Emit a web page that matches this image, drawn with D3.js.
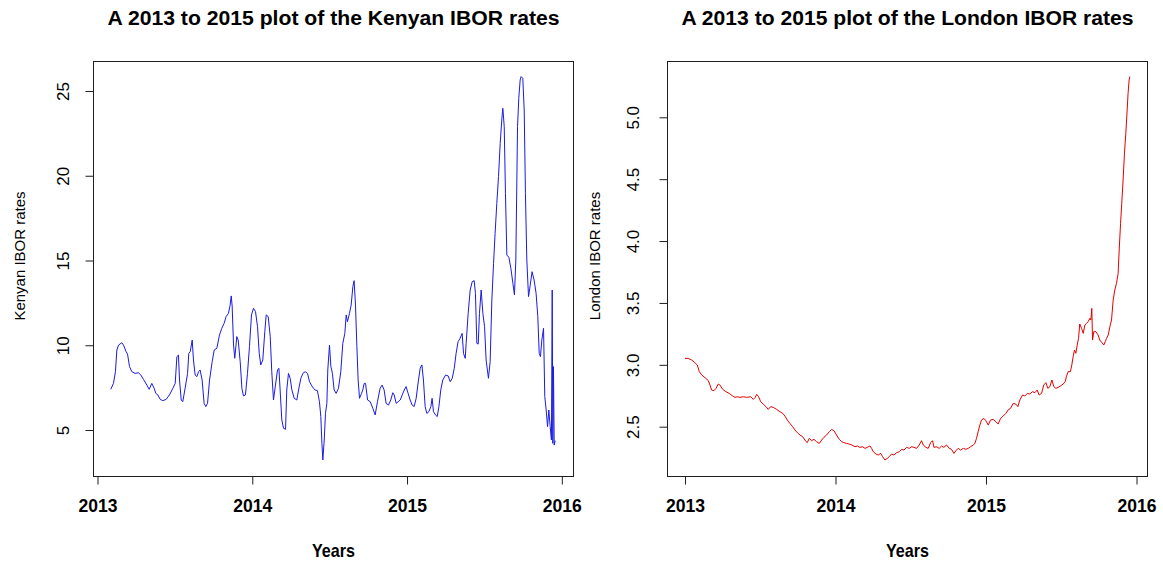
<!DOCTYPE html>
<html>
<head>
<meta charset="utf-8">
<script src="https://cdn.jsdelivr.net/npm/d3@7"></script>
<style>
  body { margin: 0; background: #ffffff; }
  svg { display: block; }
</style>
</head>
<body>
<svg id="chart" width="1163" height="562"></svg>
<script>
// Axis ticks
const yearTicks = [2013, 2014, 2015, 2016];
const kenyaTicks = [5, 10, 15, 20, 25];
const londonTicks = [2.5, 3.0, 3.5, 4.0, 4.5, 5.0];

// Kenyan interbank offered rate (decimal year, rate %)
const kenyaYears = [
  2013.086, 2013.103, 2013.116, 2013.125, 2013.136, 2013.157, 2013.168, 2013.185, 2013.194, 2013.207,
  2013.222, 2013.243, 2013.265, 2013.280, 2013.297, 2013.319, 2013.334, 2013.351, 2013.366, 2013.377,
  2013.390, 2013.405, 2013.422, 2013.444, 2013.465, 2013.487, 2013.502, 2013.513, 2013.523, 2013.530,
  2013.541, 2013.551, 2013.566, 2013.582, 2013.590, 2013.599, 2013.612, 2013.620, 2013.631, 2013.642,
  2013.653, 2013.663, 2013.676, 2013.689, 2013.700, 2013.711, 2013.724, 2013.741, 2013.754, 2013.771,
  2013.788, 2013.803, 2013.818, 2013.831, 2013.846, 2013.857, 2013.864, 2013.870, 2013.879, 2013.887,
  2013.900, 2013.909, 2013.922, 2013.933, 2013.943, 2013.956, 2013.969, 2013.982, 2013.995, 2014.008,
  2014.021, 2014.034, 2014.045, 2014.055, 2014.068, 2014.081, 2014.090, 2014.103, 2014.116, 2014.126,
  2014.137, 2014.150, 2014.163, 2014.172, 2014.180, 2014.191, 2014.202, 2014.215, 2014.223, 2014.234,
  2014.245, 2014.256, 2014.271, 2014.288, 2014.299, 2014.314, 2014.327, 2014.342, 2014.357, 2014.370,
  2014.385, 2014.396, 2014.406, 2014.421, 2014.434, 2014.443, 2014.450, 2014.456, 2014.465, 2014.473,
  2014.482, 2014.488, 2014.499, 2014.508, 2014.518, 2014.529, 2014.542, 2014.557, 2014.572, 2014.585,
  2014.598, 2014.607, 2014.615, 2014.628, 2014.639, 2014.650, 2014.658, 2014.667, 2014.676, 2014.684,
  2014.693, 2014.706, 2014.714, 2014.723, 2014.732, 2014.745, 2014.762, 2014.779, 2014.794, 2014.809,
  2014.826, 2014.839, 2014.852, 2014.865, 2014.880, 2014.895, 2014.908, 2014.917, 2014.930, 2014.943,
  2014.956, 2014.969, 2014.982, 2014.994, 2015.007, 2015.020, 2015.033, 2015.046, 2015.059, 2015.074,
  2015.085, 2015.096, 2015.106, 2015.117, 2015.128, 2015.141, 2015.154, 2015.162, 2015.171, 2015.184,
  2015.195, 2015.206, 2015.218, 2015.231, 2015.249, 2015.266, 2015.279, 2015.292, 2015.305, 2015.317,
  2015.330, 2015.343, 2015.356, 2015.365, 2015.376, 2015.382, 2015.395, 2015.408, 2015.421, 2015.434,
  2015.442, 2015.451, 2015.460, 2015.468, 2015.479, 2015.490, 2015.501, 2015.511, 2015.526, 2015.537,
  2015.548, 2015.559, 2015.569, 2015.580, 2015.591, 2015.602, 2015.613, 2015.619, 2015.628, 2015.636,
  2015.645, 2015.658, 2015.671, 2015.684, 2015.694, 2015.703, 2015.714, 2015.722, 2015.731, 2015.737,
  2015.748, 2015.757, 2015.765, 2015.774, 2015.785, 2015.796, 2015.808, 2015.821, 2015.834, 2015.845,
  2015.854, 2015.862, 2015.871, 2015.882, 2015.890, 2015.899, 2015.908, 2015.916, 2015.925, 2015.933,
  2015.938, 2015.942, 2015.946, 2015.951, 2015.957
];
const kenyaRates = [
  7.40, 7.75, 8.44, 9.72, 10.01, 10.15, 10.01, 9.62, 9.48, 8.74,
  8.44, 8.34, 8.38, 8.24, 7.99, 7.65, 7.40, 7.75, 7.46, 7.16,
  7.07, 6.81, 6.73, 6.81, 7.07, 7.46, 7.75, 9.33, 9.42, 7.95,
  6.77, 6.67, 7.46, 8.34, 9.52, 9.62, 10.31, 9.13, 8.24, 8.15,
  8.44, 8.54, 7.95, 6.57, 6.38, 6.57, 7.95, 9.03, 9.72, 9.82,
  10.60, 11.00, 11.29, 11.69, 11.88, 12.37, 12.91, 12.32, 10.01, 9.23,
  10.51, 10.31, 9.03, 7.46, 7.01, 7.07, 8.34, 9.92, 11.79, 12.18,
  11.98, 11.10, 9.52, 8.84, 9.13, 10.80, 11.79, 11.69, 10.51, 8.44,
  6.77, 7.65, 8.54, 8.64, 7.36, 5.59, 5.10, 5.04, 7.36, 8.34,
  8.05, 7.36, 6.87, 6.77, 7.36, 8.05, 8.34, 8.44, 8.34, 7.85,
  7.60, 7.46, 7.36, 7.32, 6.67, 5.79, 4.21, 3.23, 4.41, 5.98,
  6.57, 8.54, 10.01, 8.74, 8.34, 7.36, 7.16, 7.46, 8.44, 10.11,
  10.70, 11.79, 11.39, 11.88, 12.37, 13.46, 13.81, 12.37, 9.92, 7.95,
  6.87, 7.16, 7.36, 7.75, 7.75, 6.77, 6.67, 6.28, 5.89, 6.67,
  7.46, 7.65, 7.36, 6.57, 6.47, 6.77, 7.20, 7.07, 6.57, 6.67,
  6.77, 7.07, 7.36, 7.56, 7.16, 6.77, 6.47, 6.38, 6.87, 7.95,
  8.64, 8.84, 7.95, 6.38, 5.98, 6.08, 6.38, 6.87, 6.08, 5.89,
  5.79, 6.38, 7.36, 7.95, 8.24, 8.19, 7.85, 8.05, 8.64, 9.52,
  10.21, 10.41, 10.70, 9.52, 9.23, 10.11, 11.88, 13.26, 13.75, 13.81,
  13.06, 10.11, 10.07, 11.88, 13.26, 11.88, 11.10, 9.13, 8.05, 9.03,
  12.67, 14.83, 16.60, 18.37, 19.95, 21.91, 23.39, 23.98, 22.90, 18.96,
  15.32, 15.19, 14.54, 13.65, 12.97, 15.03, 22.90, 24.57, 25.65, 25.85,
  25.75, 23.88, 18.96, 15.03, 12.87, 13.55, 14.34, 13.85, 13.06, 11.69,
  9.52, 9.33, 10.31, 11.00, 6.97, 6.18, 5.20, 6.18, 5.20, 4.41,
  13.26, 4.21, 8.74, 4.11, 4.37
];

// London interbank offered rate (decimal year, rate %)
const londonYears = [
  2013.000, 2013.022, 2013.044, 2013.066, 2013.082, 2013.095, 2013.111, 2013.133, 2013.155, 2013.166,
  2013.177, 2013.193, 2013.206, 2013.221, 2013.232, 2013.250, 2013.272, 2013.294, 2013.317, 2013.332,
  2013.348, 2013.365, 2013.387, 2013.410, 2013.436, 2013.454, 2013.467, 2013.476, 2013.489, 2013.503,
  2013.520, 2013.538, 2013.553, 2013.569, 2013.587, 2013.609, 2013.631, 2013.649, 2013.664, 2013.680,
  2013.697, 2013.715, 2013.731, 2013.746, 2013.764, 2013.782, 2013.797, 2013.812, 2013.826, 2013.841,
  2013.857, 2013.874, 2013.892, 2013.908, 2013.923, 2013.941, 2013.959, 2013.974, 2013.990, 2014.007,
  2014.025, 2014.041, 2014.056, 2014.074, 2014.091, 2014.109, 2014.129, 2014.145, 2014.162, 2014.180,
  2014.196, 2014.211, 2014.229, 2014.240, 2014.251, 2014.269, 2014.284, 2014.300, 2014.313, 2014.328,
  2014.344, 2014.357, 2014.373, 2014.388, 2014.406, 2014.424, 2014.439, 2014.455, 2014.472, 2014.490,
  2014.505, 2014.521, 2014.539, 2014.556, 2014.572, 2014.583, 2014.601, 2014.616, 2014.632, 2014.645,
  2014.654, 2014.671, 2014.689, 2014.705, 2014.720, 2014.738, 2014.756, 2014.771, 2014.787, 2014.800,
  2014.815, 2014.831, 2014.849, 2014.866, 2014.882, 2014.897, 2014.915, 2014.926, 2014.937, 2014.948,
  2014.959, 2014.970, 2014.986, 2014.999, 2015.015, 2015.030, 2015.048, 2015.066, 2015.081, 2015.097,
  2015.114, 2015.132, 2015.147, 2015.163, 2015.181, 2015.198, 2015.212, 2015.225, 2015.243, 2015.258,
  2015.274, 2015.291, 2015.309, 2015.325, 2015.340, 2015.353, 2015.369, 2015.384, 2015.398, 2015.411,
  2015.424, 2015.438, 2015.451, 2015.464, 2015.480, 2015.495, 2015.513, 2015.526, 2015.535, 2015.546,
  2015.561, 2015.570, 2015.579, 2015.588, 2015.597, 2015.606, 2015.615, 2015.623, 2015.635, 2015.646,
  2015.657, 2015.668, 2015.679, 2015.690, 2015.697, 2015.703, 2015.708, 2015.716, 2015.730, 2015.745,
  2015.756, 2015.770, 2015.783, 2015.792, 2015.801, 2015.812, 2015.823, 2015.834, 2015.845, 2015.856,
  2015.867, 2015.878, 2015.885, 2015.894, 2015.902, 2015.911, 2015.920, 2015.929, 2015.938, 2015.944,
  2015.951, 2015.956
];
const londonRates = [
  3.052, 3.052, 3.039, 3.017, 2.998, 2.945, 2.918, 2.896, 2.872, 2.837,
  2.796, 2.791, 2.810, 2.845, 2.837, 2.802, 2.783, 2.769, 2.748, 2.737,
  2.742, 2.737, 2.742, 2.737, 2.742, 2.721, 2.737, 2.761, 2.742, 2.702,
  2.683, 2.662, 2.640, 2.662, 2.656, 2.640, 2.621, 2.608, 2.586, 2.554,
  2.527, 2.500, 2.473, 2.452, 2.433, 2.419, 2.392, 2.371, 2.406, 2.387,
  2.398, 2.379, 2.365, 2.392, 2.414, 2.433, 2.460, 2.478, 2.468, 2.433,
  2.398, 2.379, 2.371, 2.365, 2.360, 2.352, 2.338, 2.344, 2.333, 2.338,
  2.325, 2.333, 2.344, 2.325, 2.298, 2.279, 2.271, 2.284, 2.258, 2.231,
  2.244, 2.258, 2.279, 2.271, 2.290, 2.298, 2.317, 2.311, 2.333, 2.325,
  2.338, 2.333, 2.325, 2.352, 2.387, 2.352, 2.333, 2.325, 2.371, 2.387,
  2.333, 2.338, 2.325, 2.344, 2.333, 2.352, 2.325, 2.317, 2.284, 2.306,
  2.325, 2.311, 2.325, 2.317, 2.325, 2.338, 2.352, 2.365, 2.406, 2.460,
  2.513, 2.554, 2.567, 2.548, 2.513, 2.554, 2.559, 2.540, 2.522, 2.567,
  2.586, 2.608, 2.635, 2.648, 2.689, 2.683, 2.662, 2.716, 2.756, 2.748,
  2.769, 2.764, 2.783, 2.775, 2.796, 2.756, 2.769, 2.837, 2.856, 2.810,
  2.823, 2.877, 2.823, 2.810, 2.818, 2.829, 2.845, 2.864, 2.909, 2.945,
  2.945, 2.998, 3.066, 3.120, 3.093, 3.160, 3.214, 3.330, 3.295, 3.254,
  3.322, 3.335, 3.349, 3.376, 3.362, 3.456, 3.200, 3.268, 3.268, 3.241,
  3.200, 3.179, 3.160, 3.187, 3.214, 3.241, 3.308, 3.362, 3.524, 3.605,
  3.658, 3.739, 3.928, 4.143, 4.305, 4.494, 4.709, 4.871, 5.059, 5.194,
  5.302, 5.329
];

const titles = [
  "A 2013 to 2015 plot of the Kenyan IBOR rates",
  "A 2013 to 2015 plot of the London IBOR rates"
];
const yLabels = ["Kenyan IBOR rates", "London IBOR rates"];
const xLabel = "Years";

const panels = [
  {
    title: titles[0], ylab: yLabels[0],
    years: kenyaYears, rates: kenyaRates, ticks: kenyaTicks,
    fmt: d3.format("d"), color: "#1a1ae6",
    box: { x0: 93.5, x1: 573.5, y0: 61.5, y1: 476.5 },
    xRange: [97.5, 561.8], yDomain: [5, 25], yRange: [430, 91],
    tickOff: 24.5, ylabX: 25
  },
  {
    title: titles[1], ylab: yLabels[1],
    years: londonYears, rates: londonRates, ticks: londonTicks,
    fmt: d3.format(".1f"), color: "#e60000",
    box: { x0: 667.5, x1: 1147.5, y0: 61.5, y1: 476.5 },
    xRange: [685, 1136.5], yDomain: [2.5, 5.0], yRange: [426.7, 117.3],
    tickOff: 28.5, ylabX: 600
  }
];

const svg = d3.select("#chart");
const FONT = "'Liberation Sans', Arial, Helvetica, sans-serif";
const INK = "#1e1e1e";

panels.forEach(p => {
  const g = svg.append("g");
  const x = d3.scaleLinear().domain([2013, 2016]).range(p.xRange);
  const y = d3.scaleLinear().domain(p.yDomain).range(p.yRange);
  const cx = (p.box.x0 + p.box.x1) / 2;

  // series line
  const pts = p.years.map((yr, i) => [yr, p.rates[i]]);
  g.append("path")
    .datum(pts)
    .attr("fill", "none")
    .attr("stroke", p.color)
    .attr("stroke-width", 1)
    .attr("stroke-linejoin", "round")
    .attr("d", d3.line().x(d => x(d[0])).y(d => y(d[1])));

  // frame
  g.append("rect")
    .attr("x", p.box.x0).attr("y", p.box.y0)
    .attr("width", p.box.x1 - p.box.x0).attr("height", p.box.y1 - p.box.y0)
    .attr("fill", "none").attr("stroke", INK).attr("stroke-width", 1);

  // x axis
  g.append("g")
    .attr("transform", `translate(0,${p.box.y1})`)
    .style("color", INK)
    .call(d3.axisBottom(x).tickValues(yearTicks).tickSize(8).tickFormat(d3.format("d")))
    .call(a => a.select(".domain").remove())
    .call(a => a.selectAll(".tick text")
      .attr("y", 35).attr("dy", null)
      .attr("fill", "#000")
      .style("font-family", FONT).style("font-weight", "bold").style("font-size", "19px")
      .attr("textLength", 39).attr("lengthAdjust", "spacingAndGlyphs"));

  // y axis with rotated labels
  g.append("g")
    .attr("transform", `translate(${p.box.x0},0)`)
    .style("color", INK)
    .call(d3.axisLeft(y).tickValues(p.ticks).tickSize(8).tickFormat(p.fmt))
    .call(a => a.select(".domain").remove())
    .call(a => a.selectAll(".tick text")
      .attr("transform", "rotate(-90)")
      .attr("x", 0).attr("y", -p.tickOff).attr("dy", null)
      .attr("text-anchor", "middle")
      .attr("fill", "#000")
      .style("font-family", FONT).style("font-size", "17px"));

  // title
  g.append("text")
    .attr("x", cx).attr("y", 25)
    .attr("text-anchor", "middle")
    .style("font-family", FONT).style("font-weight", "bold").style("font-size", "20px")
    .attr("textLength", 452).attr("lengthAdjust", "spacingAndGlyphs")
    .text(p.title);

  // x label
  g.append("text")
    .attr("x", cx).attr("y", 557)
    .attr("text-anchor", "middle")
    .style("font-family", FONT).style("font-weight", "bold").style("font-size", "19px")
    .attr("textLength", 43).attr("lengthAdjust", "spacingAndGlyphs")
    .text(xLabel);

  // y label
  g.append("text")
    .attr("transform", `translate(${p.ylabX},256) rotate(-90)`)
    .attr("text-anchor", "middle")
    .style("font-family", FONT).style("font-size", "15px")
    .text(p.ylab);
});
</script>
</body>
</html>
